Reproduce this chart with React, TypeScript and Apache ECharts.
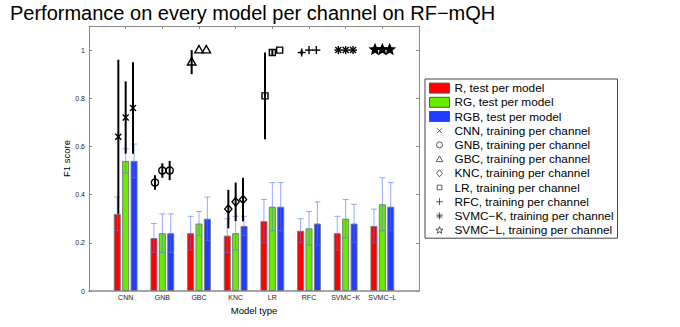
import React, { useEffect, useRef } from 'react';
import * as echarts from 'echarts';

const categories = ['CNN', 'GNB', 'GBC', 'KNC', 'LR', 'RFC', 'SVMC−K', 'SVMC−L'];
const yTicks = [0, 0.2, 0.4, 0.6, 0.8, 1];

// test per model (bars) mean and std
const barR = [0.32, 0.22, 0.24, 0.23, 0.29, 0.25, 0.24, 0.27];
const barRErr = [0.07, 0.06, 0.07, 0.07, 0.09, 0.05, 0.07, 0.07];
const barRG = [0.54, 0.24, 0.28, 0.24, 0.35, 0.26, 0.30, 0.36];
const barRGErr = [0.05, 0.08, 0.05, 0.07, 0.10, 0.07, 0.08, 0.11];
const barRGB = [0.54, 0.24, 0.30, 0.27, 0.35, 0.28, 0.28, 0.35];
const barRGBErr = [0.07, 0.08, 0.09, 0.04, 0.10, 0.09, 0.08, 0.10];

// training per channel (markers): [R, RG, RGB]
const cnnVals = [0.64, 0.72, 0.76];
const cnnErr = [0.32, 0.15, 0.19];
const gnbVals = [0.45, 0.50, 0.50];
const gnbErr = [0.03, 0.03, 0.04];
const gbcVals = [0.95, 1.0, 1.0];
const gbcErr = [0.05, 0.0, 0.0];
const kncVals = [0.34, 0.37, 0.38];
const kncErr = [0.08, 0.08, 0.09];
const lrVals = [0.81, 0.99, 1.0];
const lrErr = [0.18, 0.01, 0.0];
const rfcVals = [0.99, 1.0, 1.0];
const rfcErr = [0.01, 0.0, 0.0];
const svmkVals = [1.0, 1.0, 1.0];
const svmkErr = [0.0, 0.0, 0.0];
const svmlVals = [1.0, 1.0, 1.0];
const svmlErr = [0.0, 0.0, 0.0];

const barSeriesNames = ['R, test per model', 'RG, test per model', 'RGB, test per model'];
const barColors = ['#ff0000', '#66ee00', '#1f3dff'];
const barVals = [barR, barRG, barRGB];
const barErrs = [barRErr, barRGErr, barRGBErr];

const markerVals = [cnnVals, gnbVals, gbcVals, kncVals, lrVals, rfcVals, svmkVals, svmlVals];
const markerErrs = [cnnErr, gnbErr, gbcErr, kncErr, lrErr, rfcErr, svmkErr, svmlErr];
const markerKinds = ['x', 'o', '^', 'd', 's', '+', '*', 'p'];

const FONT = 'Liberation Sans, Arial, Helvetica, sans-serif';
const BAR_W = 7;
const BAR_GAP = 1.4;
const MARKER_OFF = 0.2;

function starPoints(cx: number, cy: number, R: number, r: number) {
  const pts: number[][] = [];
  for (let k = 0; k < 10; k++) {
    const a = -Math.PI / 2 + (k * Math.PI) / 5;
    const rad = k % 2 === 0 ? R : r;
    pts.push([cx + rad * Math.cos(a), cy + rad * Math.sin(a)]);
  }
  return pts;
}

function markerEls(kind: string, cx: number, cy: number) {
  const st = { stroke: '#000', lineWidth: 1.4, fill: 'none' };
  const line = (x1: number, y1: number, x2: number, y2: number) => ({
    type: 'line', shape: { x1, y1, x2, y2 }, style: st,
  });
  switch (kind) {
    case 'x':
      return [line(cx - 3, cy - 3, cx + 3, cy + 3), line(cx - 3, cy + 3, cx + 3, cy - 3)];
    case 'o':
      return [{ type: 'circle', shape: { cx, cy, r: 3.6 }, style: st }];
    case '^':
      return [{ type: 'polygon', shape: { points: [[cx, cy - 4.6], [cx + 4.2, cy + 2.8], [cx - 4.2, cy + 2.8]] }, style: st }];
    case 'd':
      return [{ type: 'polygon', shape: { points: [[cx, cy - 4.2], [cx + 3.6, cy], [cx, cy + 4.2], [cx - 3.6, cy]] }, style: st }];
    case 's':
      return [{ type: 'polygon', shape: { points: [[cx - 3, cy - 3], [cx + 3, cy - 3], [cx + 3, cy + 3], [cx - 3, cy + 3]] }, style: st }];
    case '+':
      return [line(cx, cy - 4, cx, cy + 4), line(cx - 4, cy, cx + 4, cy)];
    case '*':
      return [
        line(cx, cy - 4, cx, cy + 4), line(cx - 4, cy, cx + 4, cy),
        line(cx - 3, cy - 3, cx + 3, cy + 3), line(cx - 3, cy + 3, cx + 3, cy - 3),
      ];
    default:
      return [{ type: 'polygon', shape: { points: starPoints(cx, cy - 0.5, 5, 2.2) }, style: { ...st, fill: '#000' } }];
  }
}

const legendIcons: Record<string, string> = {
  x: 'path://M0 0M20 10M7.5 2.5L12.5 7.5M12.5 2.5L7.5 7.5',
  o: 'path://M0 0M20 10M13 5A3 3 0 1 1 7 5A3 3 0 1 1 13 5Z',
  '^': 'path://M0 0M20 10M10 1.8L13.3 7.5L6.7 7.5Z',
  d: 'path://M0 0M20 10M10 1.5L13 5L10 8.5L7 5Z',
  s: 'path://M0 0M20 10M7.7 2.7L12.3 2.7L12.3 7.3L7.7 7.3Z',
  '+': 'path://M0 0M20 10M10 1.5L10 8.5M6.5 5L13.5 5',
  '*': 'path://M0 0M20 10M10 1.5L10 8.5M6.5 5L13.5 5M7.6 2.6L12.4 7.4M12.4 2.6L7.6 7.4',
  p: 'path://M0 0M20 10M10 1.5L10.9 4.1L13.6 4.1L11.4 5.7L12.2 8.3L10 6.7L7.8 8.3L8.6 5.7L6.4 4.1L9.1 4.1Z',
};

export default function App() {
  const ref = useRef<HTMLDivElement>(null);
  useEffect(() => {
    if (!ref.current) return;
    const chart = echarts.init(ref.current, undefined, { renderer: 'svg' });

    const markerNames = categories.map((c) => `${c}, training per channel`);

    const barSeries = barVals.map((vals, ch) => ({
      type: 'bar',
      name: barSeriesNames[ch],
      xAxisIndex: 0,
      yAxisIndex: 0,
      barWidth: BAR_W,
      barGap: `${(BAR_GAP / BAR_W) * 100}%`,
      itemStyle: { color: barColors[ch], borderColor: '#7a7a7a', borderWidth: 1 },
      data: vals.map((v, i) => [i + 1, v]),
      z: 2,
    }));

    const barErrData: number[][] = [];
    barVals.forEach((vals, ch) =>
      vals.forEach((v, i) => barErrData.push([i + 1, v, barErrs[ch][i], ch]))
    );

    const barErrSeries = {
      type: 'custom',
      name: 'barErr',
      xAxisIndex: 0,
      yAxisIndex: 0,
      z: 3,
      clip: false,
      encode: { x: 0, y: 1 },
      data: barErrData,
      renderItem: (params: any, api: any) => {
        const x = api.value(0);
        const v = api.value(1);
        const e = api.value(2);
        const ch = api.value(3);
        const dx = (ch - 1) * (BAR_W + BAR_GAP);
        const top = api.coord([x, v + e]);
        const bot = api.coord([x, v - e]);
        const cx = top[0] + dx;
        const st = { stroke: 'rgba(90,110,255,0.6)', lineWidth: 1 };
        return {
          type: 'group',
          children: [
            { type: 'line', shape: { x1: cx, y1: top[1], x2: cx, y2: bot[1] }, style: st },
            { type: 'line', shape: { x1: cx - 3, y1: top[1], x2: cx + 3, y2: top[1] }, style: st },
            { type: 'line', shape: { x1: cx - 3, y1: bot[1], x2: cx + 3, y2: bot[1] }, style: st },
          ],
        };
      },
    };

    const markerSeries = markerVals.map((vals, m) => ({
      type: 'custom',
      name: markerNames[m],
      xAxisIndex: 0,
      yAxisIndex: 0,
      z: 4,
      clip: false,
      encode: { x: 0, y: 1 },
      itemStyle: { color: '#000' },
      data: vals.map((v, ch) => [m + 1, v, markerErrs[m][ch], ch]),
      renderItem: (params: any, api: any) => {
        const x = api.value(0);
        const v = api.value(1);
        const e = api.value(2);
        const ch = api.value(3);
        const unit = api.size([1, 0])[0];
        const c = api.coord([x, v]);
        const top = api.coord([x, v + e]);
        const bot = api.coord([x, v - e]);
        const cx = c[0] + (ch - 1) * unit * MARKER_OFF;
        const children: any[] = [];
        if (e > 0) {
          children.push({
            type: 'line',
            shape: { x1: cx, y1: top[1], x2: cx, y2: bot[1] },
            style: { stroke: '#000', lineWidth: 2 },
          });
        }
        return { type: 'group', children: children.concat(markerEls(markerKinds[m], cx, c[1])) };
      },
    }));

    const legendData = [
      ...barSeriesNames.map((n, ch) => ({
        name: n,
        icon: 'rect',
        itemStyle: { color: barColors[ch], borderColor: '#555', borderWidth: 1 },
      })),
      ...markerNames.map((n, m) => ({
        name: n,
        icon: legendIcons[markerKinds[m]],
        itemStyle: { color: 'rgba(0,0,0,0)', borderColor: '#333', borderWidth: 0.8 },
      })),
    ];

    const axisGray = '#8a8a8a';
    const tickCommon = { show: true, inside: true, length: 3, lineStyle: { color: axisGray, width: 1 } };

    chart.setOption({
      animation: false,
      backgroundColor: '#fff',
      title: {
        text: 'Performance on every model per channel on RF−mQH',
        left: 10,
        top: 3,
        padding: 0,
        textStyle: { fontFamily: FONT, fontSize: 20, fontWeight: 'normal', color: '#000' },
      },
      grid: { left: 89, top: 26, width: 330, height: 265, show: false },
      legend: {
        orient: 'vertical',
        left: 425,
        top: 79,
        padding: [2, 4, 1, 4],
        itemGap: 0,
        itemWidth: 20,
        itemHeight: 10,
        backgroundColor: '#fff',
        borderColor: '#444',
        borderWidth: 1,
        borderRadius: 0,
        selectedMode: false,
        textStyle: { fontFamily: FONT, fontSize: 11.8, color: '#000', lineHeight: 14.2 },
        data: legendData,
      },
      xAxis: [
        {
          type: 'value',
          min: 0,
          max: 9,
          interval: 1,
          position: 'bottom',
          name: 'Model type',
          nameLocation: 'middle',
          nameGap: 10,
          nameTextStyle: { fontFamily: FONT, fontSize: 9.5, color: '#000' },
          axisLine: { show: true, onZero: false, lineStyle: { color: axisGray, width: 1.5 } },
          axisTick: tickCommon,
          splitLine: { show: false },
          axisLabel: {
            fontFamily: FONT,
            fontSize: 7,
            color: '#222',
            margin: 3,
            formatter: (v: number) => categories[v - 1] ?? '',
          },
        },
        {
          type: 'value',
          min: 0,
          max: 9,
          interval: 1,
          position: 'top',
          axisLine: { show: true, onZero: false, lineStyle: { color: axisGray, width: 1 } },
          axisTick: tickCommon,
          splitLine: { show: false },
          axisLabel: { show: false },
        },
      ],
      yAxis: [
        {
          type: 'value',
          min: 0,
          max: 1.1,
          interval: 0.2,
          position: 'left',
          name: 'F1 score',
          nameLocation: 'middle',
          nameGap: 17,
          nameTextStyle: { fontFamily: FONT, fontSize: 9.5, color: '#000' },
          axisLine: { show: true, onZero: false, lineStyle: { color: axisGray, width: 1 } },
          axisTick: tickCommon,
          splitLine: { show: false },
          axisLabel: {
            fontFamily: FONT,
            fontSize: 7,
            color: '#222',
            margin: 4,
            formatter: (v: number) => {
              const t = yTicks.find((k) => Math.abs(k - v) < 1e-6);
              return t === undefined ? '' : String(t);
            },
          },
        },
        {
          type: 'value',
          min: 0,
          max: 1.1,
          interval: 0.2,
          position: 'right',
          axisLine: { show: true, onZero: false, lineStyle: { color: axisGray, width: 1 } },
          axisTick: tickCommon,
          splitLine: { show: false },
          axisLabel: { show: false },
        },
      ],
      series: [...barSeries, barErrSeries, ...markerSeries],
    });

    return () => chart.dispose();
  }, []);

  return (
    <div
      ref={ref}
      style={{ position: 'fixed', left: 0, top: 0, width: 680, height: 327, background: '#fff' }}
    />
  );
}
